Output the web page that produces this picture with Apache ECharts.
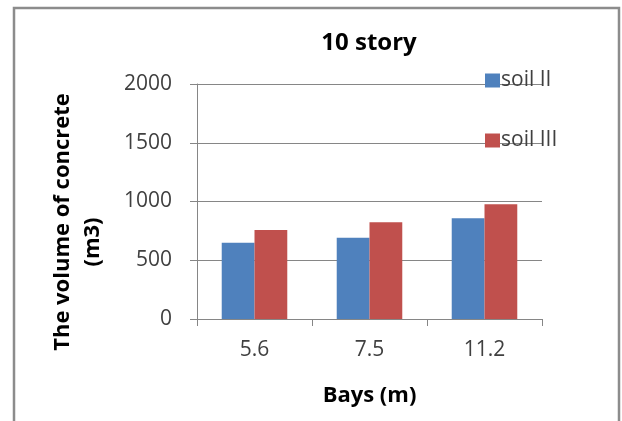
<!DOCTYPE html>
<html>
<head>
<meta charset="utf-8">
<script src="https://cdn.jsdelivr.net/npm/echarts@6/dist/echarts.min.js"></script>
<style>
  html, body { margin: 0; padding: 0; background: #fff; }
  #chart { width: 622px; height: 421px; }
</style>
</head>
<body>
<div id="chart"></div>
<script>
// Bay spans (m) along the x axis
const bays = ['5.6', '7.5', '11.2'];
// Concrete volume (m3) for each soil type
const soilII = [649, 692, 857];
const soilIII = [757, 823, 976];
const seriesNames = ['soil II', 'soil III'];

const FONT = 'Open Sans';
const chart = echarts.init(document.getElementById('chart'), null, { renderer: 'canvas' });

chart.setOption({
  animation: false,
  backgroundColor: '#fff',
  title: {
    text: '10 story',
    left: 369,
    top: 31,
    padding: 0,
    textAlign: 'center',
    textStyle: { fontFamily: FONT, fontSize: 24, fontWeight: 'bold', color: '#000' }
  },
  legend: {
    orient: 'vertical',
    left: 485,
    top: 70,
    padding: 0,
    itemWidth: 15,
    itemHeight: 14,
    itemGap: 39,
    icon: 'rect',
    data: seriesNames,
    textStyle: { fontFamily: FONT, fontSize: 21, color: '#404040', padding: [0, 0, 0, -4] }
  },
  grid: { left: 197, right: 80, top: 84, bottom: 102 },
  xAxis: {
    type: 'category',
    data: bays,
    name: 'Bays (m)',
    nameLocation: 'middle',
    nameGap: 66,
    nameTextStyle: { fontFamily: FONT, fontSize: 22, fontWeight: 'bold', color: '#000' },
    axisLine: { lineStyle: { color: '#868686', width: 1 } },
    axisTick: { show: true, length: 7, lineStyle: { color: '#868686' } },
    axisLabel: { margin: 21, fontFamily: FONT, fontSize: 21, color: '#404040' }
  },
  yAxis: {
    type: 'value',
    min: 0,
    max: 2000,
    interval: 500,
    axisLine: { show: true, lineStyle: { color: '#868686', width: 1 } },
    axisTick: { show: true, length: 7, lineStyle: { color: '#868686' } },
    splitLine: { lineStyle: { color: '#868686', width: 1 } },
    axisLabel: {
      margin: 25, fontFamily: FONT, fontSize: 21, color: '#404040',
      formatter: (v) => String(v)
    }
  },
  graphic: [
    {
      type: 'rect',
      shape: { x: 14, y: 8, width: 605, height: 430 },
      style: { fill: 'none', stroke: '#8c8c8c', lineWidth: 2.5 },
      silent: true
    },
    {
      type: 'text',
      x: 63, y: 222, rotation: Math.PI / 2,
      style: {
        text: 'The volume of concrete',
        fontFamily: FONT, fontSize: 22, fontWeight: 'bold', fill: '#000',
        align: 'center', verticalAlign: 'middle'
      }
    },
    {
      type: 'text',
      x: 93, y: 242, rotation: Math.PI / 2,
      style: {
        text: '(m3)',
        fontFamily: FONT, fontSize: 22, fontWeight: 'bold', fill: '#000',
        align: 'center', verticalAlign: 'middle'
      }
    }
  ],
  series: [
    {
      name: seriesNames[0],
      type: 'bar',
      data: soilII,
      itemStyle: { color: '#4F81BD' },
      barGap: '0%',
      barCategoryGap: '43%'
    },
    {
      name: seriesNames[1],
      type: 'bar',
      data: soilIII,
      itemStyle: { color: '#C0504D' },
      barGap: '0%',
      barCategoryGap: '43%'
    }
  ]
});
</script>
</body>
</html>
